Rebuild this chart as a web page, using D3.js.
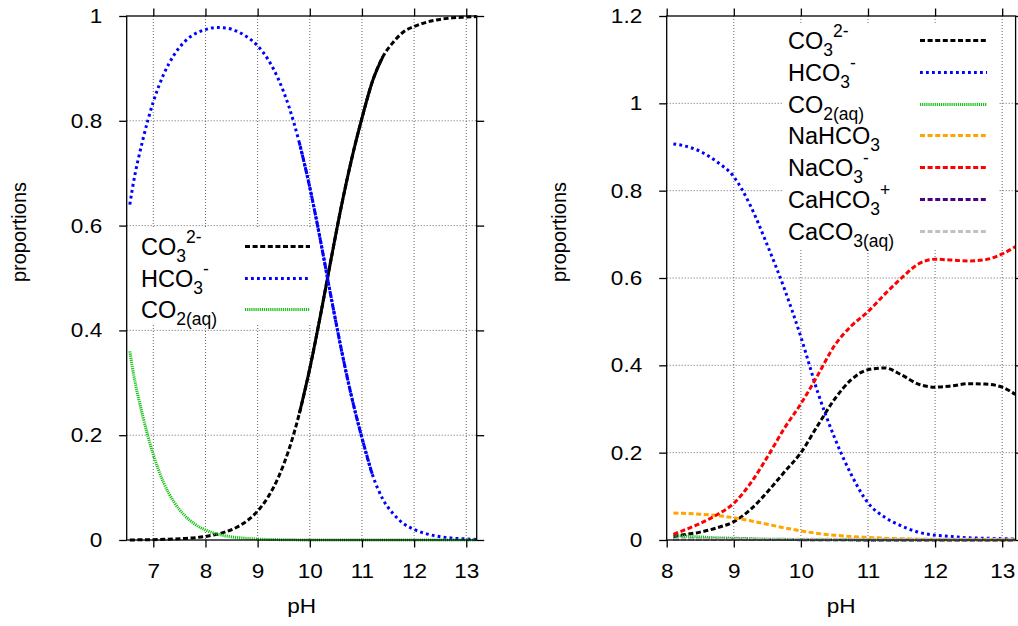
<!DOCTYPE html>
<html><head><meta charset="utf-8">
<script src="https://cdn.jsdelivr.net/npm/d3@7"></script>
<style>
body{margin:0;background:#fff}
text{font-family:"Liberation Sans",Arial,Helvetica,sans-serif;fill:#000}
</style>
</head><body>
<svg id="c" width="1018" height="626"></svg>
<script>
// ---------------- Left panel data ----------------
const leftPH = [6.55, 6.6, 6.8, 7.0, 7.2, 7.4, 7.6, 7.8, 8.0, 8.2, 8.4, 8.6, 8.8, 9.0, 9.2, 9.4, 9.6, 9.8, 10.0, 10.2, 10.4, 10.6, 10.8, 11.0, 11.2, 11.4, 11.6, 11.8, 12.0, 12.2, 12.4, 12.6, 12.8, 13.0, 13.2];
const leftCO3 = [0.0002, 0.0002, 0.0004, 0.0007, 0.0012, 0.0018, 0.0029, 0.0044, 0.0068, 0.0105, 0.016, 0.0243, 0.0368, 0.0552, 0.0819, 0.120, 0.1725, 0.2415, 0.3272, 0.4263, 0.5317, 0.6344, 0.726, 0.805, 0.875, 0.922, 0.95, 0.97, 0.98, 0.987, 0.992, 0.995, 0.997, 0.998, 0.999];
const leftHCO3 = [0.64, 0.671, 0.764, 0.836, 0.889, 0.926, 0.951, 0.966, 0.974, 0.978, 0.977, 0.971, 0.960, 0.943, 0.917, 0.879, 0.827, 0.758, 0.673, 0.574, 0.468, 0.366, 0.274, 0.195, 0.125, 0.078, 0.05, 0.031, 0.02, 0.013, 0.008, 0.005, 0.003, 0.002, 0.001];
const leftCO2 = [0.36, 0.329, 0.236, 0.163, 0.109, 0.072, 0.047, 0.030, 0.019, 0.012, 0.0076, 0.0048, 0.003, 0.0018, 0.0011, 0.0007, 0.0004, 0.0002, 0.0001, 0, 0, 0, 0, 0, 0, 0, 0, 0, 0, 0, 0, 0, 0, 0, 0];
const leftXTicks = [7, 8, 9, 10, 11, 12, 13];
const leftXLabels = ["7", "8", "9", "10", "11", "12", "13"];
const leftYTicks = [0, 0.2, 0.4, 0.6, 0.8, 1];
const leftYLabels = ["0", "0.2", "0.4", "0.6", "0.8", "1"];

// ---------------- Right panel data ----------------
const rightPH = [8.1, 8.25, 8.5, 8.75, 9.0, 9.25, 9.5, 9.75, 10.0, 10.25, 10.5, 10.75, 11.0, 11.25, 11.5, 11.75, 12.0, 12.25, 12.5, 12.75, 13.0, 13.2];
const rightCO3 = [0.008, 0.012, 0.018, 0.028, 0.042, 0.07, 0.11, 0.155, 0.2, 0.262, 0.322, 0.367, 0.39, 0.394, 0.378, 0.357, 0.35, 0.353, 0.358, 0.357, 0.35, 0.333];
const rightHCO3 = [0.907, 0.903, 0.89, 0.866, 0.832, 0.765, 0.675, 0.577, 0.465, 0.339, 0.235, 0.15, 0.085, 0.052, 0.032, 0.018, 0.011, 0.008, 0.005, 0.004, 0.003, 0.002];
const rightCO2 = [0.01, 0.009, 0.007, 0.005, 0.004, 0.003, 0.002, 0.0015, 0.001, 0.0007, 0.0005, 0.0003, 0.0002, 0.0001, 0, 0, 0, 0, 0, 0, 0, 0];
const rightNaHCO3 = [0.062, 0.061, 0.059, 0.056, 0.051, 0.044, 0.036, 0.028, 0.021, 0.015, 0.011, 0.008, 0.006, 0.004, 0.003, 0.002, 0.0015, 0.001, 0.001, 0.0008, 0.0006, 0.0005];
const rightNaCO3 = [0.013, 0.022, 0.038, 0.058, 0.084, 0.13, 0.19, 0.255, 0.312, 0.377, 0.445, 0.49, 0.523, 0.563, 0.6, 0.632, 0.643, 0.641, 0.639, 0.642, 0.655, 0.672];
const rightCaHCO3 = [0.002, 0.002, 0.002, 0.002, 0.002, 0.0015, 0.0012, 0.001, 0.0008, 0.0006, 0.0004, 0.0003, 0.0002, 0.0001, 0.0001, 0, 0, 0, 0, 0, 0, 0];
const rightCaCO3 = [0.001, 0.001, 0.0015, 0.002, 0.002, 0.002, 0.002, 0.002, 0.002, 0.002, 0.002, 0.002, 0.002, 0.002, 0.002, 0.002, 0.002, 0.002, 0.002, 0.002, 0.002, 0.002];
const rightXTicks = [8, 9, 10, 11, 12, 13];
const rightXLabels = ["8", "9", "10", "11", "12", "13"];
const rightYTicks = [0, 0.2, 0.4, 0.6, 0.8, 1, 1.2];
const rightYLabels = ["0", "0.2", "0.4", "0.6", "0.8", "1", "1.2"];

const xTitle = "pH";
const yTitle = "proportions";

// ---------------- Styles ----------------
const styles = {
  CO3:    {label: "CO_3^{2-}",   color: "#000000", dash: "5,2.6"},
  HCO3:   {label: "HCO_3^-",     color: "#0000ff", dash: "2.8,3.2"},
  CO2:    {label: "CO_{2(aq)}",  color: "#18c018", dash: "1.2,0.9"},
  NaHCO3: {label: "NaHCO_3",     color: "#ffa500", dash: "5,2.6"},
  NaCO3:  {label: "NaCO_3^-",    color: "#ff0000", dash: "5,2.6"},
  CaHCO3: {label: "CaHCO_3^+",   color: "#4b0082", dash: "5,2.6"},
  CaCO3:  {label: "CaCO_{3(aq)}",color: "#c0c0c0", dash: "5,2.6"}
};

const svg = d3.select("#c");
svg.append("rect").attr("width", 1018).attr("height", 626).attr("fill", "#fff");

const TICK_FONT = 20.5, LABEL_FONT = 20.5, YLABEL_FONT = 20, LEG_FONT = 23.5, LEG_SUB = 17.5, SX = 1.1;

function richText(sel, str, main, sub) {
  const parts = [];
  let i = 0;
  while (i < str.length) {
    const c = str[i];
    if (c === "_" || c === "^") {
      i++;
      let content;
      if (str[i] === "{") { const j = str.indexOf("}", i); content = str.slice(i + 1, j); i = j + 1; }
      else { content = str[i]; i++; }
      parts.push({t: content, type: c});
    } else {
      let j = i;
      while (j < str.length && str[j] !== "_" && str[j] !== "^") j++;
      parts.push({t: str.slice(i, j), type: ""});
      i = j;
    }
  }
  let off = 0;
  parts.forEach(p => {
    const target = p.type === "_" ? 7 : (p.type === "^" ? -12 : 0);
    sel.append("tspan").attr("dy", target - off).attr("font-size", p.type ? sub : main).text(p.t);
    off = target;
  });
}

function panel(cfg) {
  const g = svg.append("g");
  const x = d3.scaleLinear().domain(cfg.xDomain).range([cfg.left, cfg.right]);
  const y = d3.scaleLinear().domain(cfg.yDomain).range([cfg.bottom, cfg.top]);
  const clipId = "clip" + cfg.id;
  svg.append("clipPath").attr("id", clipId).append("rect")
    .attr("x", cfg.left).attr("y", cfg.top - 2)
    .attr("width", cfg.right - cfg.left).attr("height", cfg.bottom - cfg.top + 4);

  // grid
  const grid = g.append("g").attr("stroke", "#666").attr("stroke-width", 1).attr("stroke-dasharray", "1,2");
  cfg.xTicks.filter(v => x(v) > cfg.left + 1 && x(v) < cfg.right - 1).forEach(v => {
    grid.append("line").attr("x1", x(v)).attr("x2", x(v)).attr("y1", cfg.top).attr("y2", cfg.bottom);
  });
  cfg.yTicks.filter(v => y(v) > cfg.top + 1 && y(v) < cfg.bottom - 1).forEach(v => {
    grid.append("line").attr("x1", cfg.left).attr("x2", cfg.right).attr("y1", y(v)).attr("y2", y(v));
  });

  // legend box (opaque)
  g.append("rect").attr("x", cfg.legend.box[0]).attr("y", cfg.legend.box[1])
    .attr("width", cfg.legend.box[2]).attr("height", cfg.legend.box[3]).attr("fill", "#fff");

  // series
  const curves = g.append("g").attr("clip-path", `url(#${clipId})`);
  const line = d3.line().x(d => x(d[0])).y(d => y(d[1])).curve(d3.curveMonotoneX);
  cfg.series.forEach(s => {
    const st = styles[s.key];
    const pts = cfg.xs.map((v, i) => [v, s.values[i]]);
    curves.append("path").attr("d", line(pts)).attr("fill", "none")
      .attr("stroke", st.color).attr("stroke-width", 3).attr("stroke-dasharray", st.dash);
    if (s.dense) {
      const sub = pts.filter(p => p[0] >= s.dense[0] && p[0] <= s.dense[1]);
      curves.append("path").attr("d", line(sub)).attr("fill", "none")
        .attr("stroke", st.color).attr("stroke-width", 3).attr("stroke-dasharray", s.dense[2]);
    }
  });

  // border
  g.append("rect").attr("x", cfg.left).attr("y", cfg.top)
    .attr("width", cfg.right - cfg.left).attr("height", cfg.bottom - cfg.top)
    .attr("fill", "none").attr("stroke", "#000").attr("stroke-width", 1.3);

  // axes
  const fmtX = (d) => cfg.xLabels[cfg.xTicks.indexOf(d)];
  const fmtY = (d) => cfg.yLabels[cfg.yTicks.indexOf(d)];
  const ax = [
    g.append("g").attr("transform", `translate(0,${cfg.bottom})`).call(d3.axisBottom(x).tickValues(cfg.xTicks).tickFormat(fmtX).tickSize(7.5).tickPadding(16)),
    g.append("g").attr("transform", `translate(0,${cfg.top})`).call(d3.axisTop(x).tickValues(cfg.xTicks).tickFormat("").tickSize(7.5)),
    g.append("g").attr("transform", `translate(${cfg.left},0)`).call(d3.axisLeft(y).tickValues(cfg.yTicks).tickFormat(fmtY).tickSize(7.5).tickPadding(17)),
    g.append("g").attr("transform", `translate(${cfg.right},0)`).call(d3.axisRight(y).tickValues(cfg.yTicks).tickFormat("").tickSize(7.5))
  ];
  ax.forEach(a => {
    a.select(".domain").remove();
    a.selectAll(".tick line").attr("stroke", "#000").attr("stroke-width", 1.3);
    a.selectAll("text").attr("font-size", TICK_FONT).attr("font-family", null).attr("fill", "#000")
      .each(function () {
        const t = d3.select(this);
        const xx = +t.attr("x") || 0;
        t.attr("x", 0).attr("transform", `translate(${xx},0) scale(${SX},1)`);
      });
  });

  // axis titles
  g.append("text").attr("transform", `translate(${(cfg.left + cfg.right) / 2},613) scale(${SX},1)`)
    .attr("text-anchor", "middle").attr("font-size", LABEL_FONT).text(xTitle);
  g.append("text").attr("transform", `translate(${cfg.yTitleX},232) rotate(-90)`)
    .attr("text-anchor", "middle").attr("font-size", YLABEL_FONT).text(yTitle);

  // legend entries
  const L = cfg.legend;
  cfg.series.forEach((s, i) => {
    const st = styles[s.key];
    const cy = Math.round(L.y0 + i * L.dy) + 0.5;
    const t = g.append("text").attr("x", L.textX).attr("y", cy + 8);
    richText(t, st.label, LEG_FONT, LEG_SUB);
    g.append("line").attr("x1", L.lineX[0]).attr("x2", L.lineX[1]).attr("y1", cy).attr("y2", cy)
      .attr("stroke", st.color).attr("stroke-width", 3).attr("stroke-dasharray", st.dash);
  });
}

panel({
  id: "L", left: 126.7, right: 476.7, top: 16, bottom: 540,
  xDomain: [6.49, 13.2], yDomain: [0, 1],
  xTicks: leftXTicks, xLabels: leftXLabels, yTicks: leftYTicks, yLabels: leftYLabels,
  yTitleX: 26,
  xs: leftPH,
  series: [
    {key: "CO3", values: leftCO3, dense: [9.8, 11.4, "none"]},
    {key: "HCO3", values: leftHCO3, dense: [9.8, 11.2, "3,1.2"]},
    {key: "CO2", values: leftCO2}
  ],
  legend: {box: [133, 228, 182, 97], y0: 245.7, dy: 31.8, textX: 141, lineX: [245, 310]}
});

panel({
  id: "R", left: 666.7, right: 1015.6, top: 16, bottom: 540,
  xDomain: [8, 13.2], yDomain: [0, 1.2],
  xTicks: rightXTicks, xLabels: rightXLabels, yTicks: rightYTicks, yLabels: rightYLabels,
  yTitleX: 566,
  xs: rightPH,
  series: [
    {key: "CO3", values: rightCO3},
    {key: "HCO3", values: rightHCO3},
    {key: "CO2", values: rightCO2},
    {key: "NaHCO3", values: rightNaHCO3},
    {key: "NaCO3", values: rightNaCO3},
    {key: "CaHCO3", values: rightCaHCO3},
    {key: "CaCO3", values: rightCaCO3}
  ],
  legend: {box: [783, 23, 216, 225], y0: 40, dy: 31.8, textX: 788, lineX: [920, 987]}
});
</script>
</body></html>
